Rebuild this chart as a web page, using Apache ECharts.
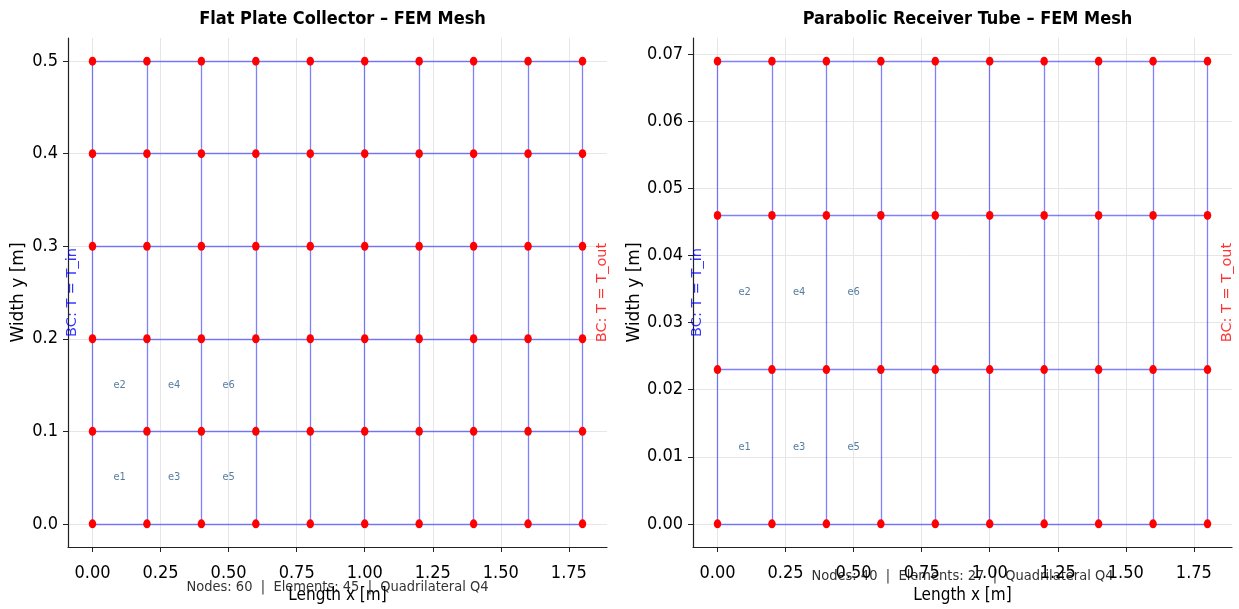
<!DOCTYPE html>
<html><head><meta charset="utf-8">
<script src="https://cdn.jsdelivr.net/npm/echarts@6/dist/echarts.min.js"></script>
<style>html,body{margin:0;padding:0;background:#fff}#c{width:1239px;height:609px}</style>
</head><body><div id="c"></div>
<script>
// ---- data ----
const xNodes = [0, 0.2, 0.4, 0.6, 0.8, 1.0, 1.2, 1.4, 1.6, 1.8];
const yNodesFlat = [0, 0.1, 0.2, 0.3, 0.4, 0.5];
const yNodesTube = [0, 0.023, 0.046, 0.069];
const xTicks = [0, 0.25, 0.5, 0.75, 1.0, 1.25, 1.5, 1.75];
const yTicksFlat = [0, 0.1, 0.2, 0.3, 0.4, 0.5];
const yTicksTube = [0, 0.01, 0.02, 0.03, 0.04, 0.05, 0.06, 0.07];
const elemLabels = ['e1', 'e2', 'e3', 'e4', 'e5', 'e6'];
const titles = ['Flat Plate Collector – FEM Mesh', 'Parabolic Receiver Tube – FEM Mesh'];
const infoTexts = ['Nodes: 60  |  Elements: 45  |  Quadrilateral Q4', 'Nodes: 40  |  Elements: 27  |  Quadrilateral Q4'];
const bcIn = 'BC: T = T_in', bcOut = 'BC: T = T_out';

const COND = "'DejaVu Sans Condensed','Liberation Sans Narrow','DejaVu Sans',sans-serif";
const NORM = "'DejaVu Sans',sans-serif";

function range(a) { const mn = Math.min(...a), mx = Math.max(...a), m = (mx - mn) * 0.05; return [mn - m, mx + m]; }

function meshSegs(xs, ys) {
  const segs = [];
  ys.forEach(y => segs.push({ coords: [[xs[0], y], [xs[xs.length - 1], y]] }));
  xs.forEach(x => segs.push({ coords: [[x, ys[0]], [x, ys[ys.length - 1]]] }));
  return segs;
}
function nodes(xs, ys) { const d = []; ys.forEach(y => xs.forEach(x => d.push([x, y]))); return d; }
function elems(xs, ys) {
  const d = []; let k = 0;
  for (let i = 0; i < xs.length - 1 && k < elemLabels.length; i++)
    for (let j = 0; j < ys.length - 1 && j < 2 && k < elemLabels.length; j++) {
      d.push({ value: [(xs[i] + xs[i + 1]) / 2, (ys[j] + ys[j + 1]) / 2], name: elemLabels[k++] });
    }
  return d;
}

const panels = [
  { ys: yNodesFlat, yt: yTicksFlat, dec: 1, left: 68 },
  { ys: yNodesTube, yt: yTicksTube, dec: 2, left: 693 }
];

const grid = [], xAxis = [], yAxis = [], series = [], title = [], graphic = [];
panels.forEach((p, i) => {
  grid.push({ left: p.left, top: 38, width: 539, height: 512 });
  const xr = range(xNodes), yr = range(p.ys);
  xAxis.push({
    type: 'value', gridIndex: i, min: xr[0], max: xr[1],
    name: 'Length x [m]', nameLocation: 'middle', nameGap: 40,
    nameTextStyle: { fontFamily: COND, fontSize: 17, color: '#000' },
    axisLine: { show: true, onZero: false, lineStyle: { color: '#222', width: 1.2 } },
    axisTick: { show: true, length: 5, lineStyle: { color: '#222' }, customValues: xTicks },
    axisLabel: { customValues: xTicks, formatter: v => v.toFixed(2), fontFamily: COND, fontSize: 18, color: '#000', margin: 17 },
    splitLine: { show: true, lineStyle: { color: '#e6e6e6', width: 1 } }
  });
  yAxis.push({
    type: 'value', gridIndex: i, min: yr[0], max: yr[1],
    name: 'Width y [m]', nameLocation: 'middle', nameGap: p.dec === 1 ? 41 : 50,
    nameTextStyle: { fontFamily: NORM, fontSize: 17, color: '#000' },
    axisLine: { show: true, onZero: false, lineStyle: { color: '#222', width: 1.2 } },
    axisTick: { show: true, length: 5, lineStyle: { color: '#222' }, customValues: p.yt },
    axisLabel: { customValues: p.yt, formatter: v => v.toFixed(p.dec), fontFamily: COND, fontSize: 18, color: '#000', margin: 10 },
    splitLine: { show: true, lineStyle: { color: '#e6e6e6', width: 1 } }
  });
  series.push({
    type: 'lines', coordinateSystem: 'cartesian2d', xAxisIndex: i, yAxisIndex: i, polyline: false,
    data: meshSegs(xNodes, p.ys), lineStyle: { color: 'rgba(0,0,255,0.5)', width: 1.3, opacity: 1 }, z: 2, silent: true
  });
  series.push({
    type: 'scatter', xAxisIndex: i, yAxisIndex: i, data: nodes(xNodes, p.ys),
    symbolSize: [7.5, 9], itemStyle: { color: '#ff0000', opacity: 1 }, z: 3, silent: true
  });
  series.push({
    type: 'scatter', xAxisIndex: i, yAxisIndex: i, data: elems(xNodes, p.ys), symbolSize: 0,
    label: { show: true, position: 'inside', formatter: '{b}', fontFamily: COND, fontSize: 11, color: '#2b5d8a' }, z: 4, silent: true
  });
  const ymid = (p.ys[0] + p.ys[p.ys.length - 1]) / 2;
  series.push({
    type: 'scatter', xAxisIndex: i, yAxisIndex: i, symbolSize: 0, z: 4, silent: true,
    data: [{ value: [-0.0735, ymid], name: bcIn, label: { color: '#0000ff' } },
           { value: [1.874, ymid], name: bcOut, label: { color: '#ff0000' } }],
    label: { show: true, position: 'inside', rotate: 90, formatter: '{b}', fontFamily: NORM, fontSize: 14.5 }
  });
  const cx = p.left + 539 / 2;
  title.push({ text: titles[i], left: cx, top: 5, textAlign: 'center',
    textStyle: { fontFamily: COND, fontWeight: 'bold', fontSize: 18, color: '#000' } });
});
graphic.push({ type: 'text', x: 68 + 539 / 2, y: 587, style: { text: infoTexts[0], align: 'center', verticalAlign: 'middle', font: "14.5px " + COND, fill: '#333' } });
graphic.push({ type: 'text', x: 693 + 539 / 2, y: 576, style: { text: infoTexts[1], align: 'center', verticalAlign: 'middle', font: "14.5px " + COND, fill: '#333' } });

const chart = echarts.init(document.getElementById('c'), null, { renderer: 'canvas' });
chart.setOption({ backgroundColor: '#fff', animation: false, title, grid, xAxis, yAxis, series, graphic });
</script></body></html>
